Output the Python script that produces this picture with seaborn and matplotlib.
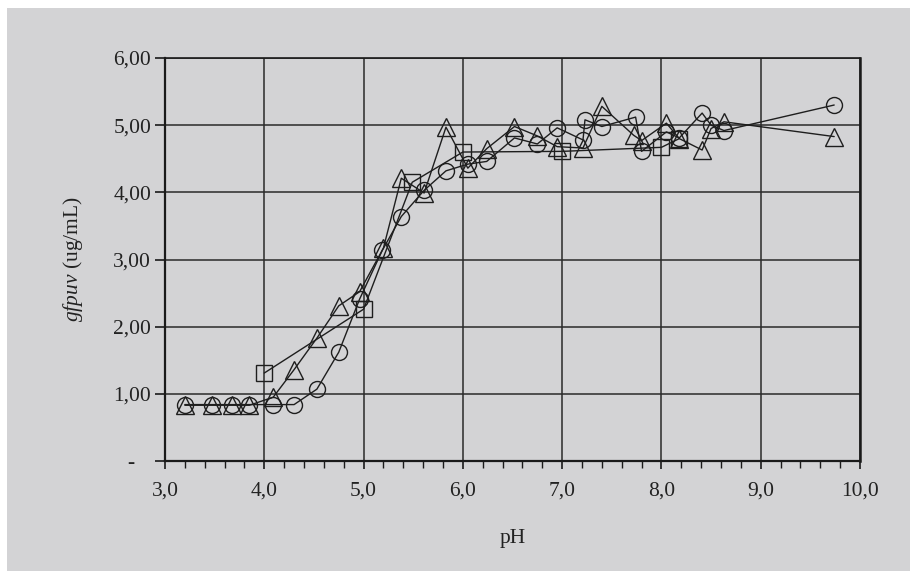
import numpy as np
import pandas as pd
import matplotlib
matplotlib.use("Agg")
import matplotlib.pyplot as plt
import seaborn as sns
from matplotlib.patches import Rectangle
from matplotlib.ticker import FixedLocator, MultipleLocator, FuncFormatter

# circle series
ph_circle = [3.20, 3.47, 3.67, 3.85, 4.09, 4.30, 4.53, 4.75, 4.96, 5.19, 5.38, 5.61,
             5.83, 6.05, 6.24, 6.52, 6.75, 6.95, 7.21, 7.23, 7.40, 7.74, 7.80, 8.05,
             8.18, 8.41, 8.50, 8.63, 9.74]
gfp_circle = [0.84, 0.84, 0.84, 0.84, 0.84, 0.84, 1.07, 1.62, 2.41, 3.14, 3.64, 4.03,
              4.32, 4.42, 4.46, 4.81, 4.72, 4.96, 4.78, 5.08, 4.98, 5.12, 4.61, 4.90,
              4.81, 5.18, 5.00, 4.92, 5.30]

# triangle series
ph_tri = [3.20, 3.47, 3.67, 3.85, 4.09, 4.30, 4.53, 4.75, 4.96, 5.20, 5.38, 5.61,
          5.83, 6.05, 6.24, 6.52, 6.75, 6.95, 7.21, 7.40, 7.72, 7.80, 8.05, 8.18,
          8.41, 8.50, 8.63, 9.74]
gfp_tri = [0.83, 0.83, 0.83, 0.83, 0.95, 1.36, 1.83, 2.31, 2.52, 3.17, 4.21, 3.99,
           4.97, 4.36, 4.65, 4.98, 4.84, 4.68, 4.66, 5.28, 4.85, 4.77, 5.03, 4.80,
           4.63, 4.95, 5.05, 4.83]

# square series
ph_sq = [4.00, 5.00, 5.49, 6.00, 7.00, 8.00, 8.18]
gfp_sq = [1.31, 2.26, 4.15, 4.60, 4.61, 4.67, 4.80]

x_ticks = [3, 4, 5, 6, 7, 8, 9, 10]
y_ticks = [0, 1, 2, 3, 4, 5, 6]

BG = "#d3d3d5"
INK = "#1e1e1e"

sns.set_style("ticks")
plt.rcParams["font.family"] = ["Liberation Serif", "DejaVu Serif"]
plt.rcParams["mathtext.fontset"] = "custom"
plt.rcParams["mathtext.rm"] = "Liberation Serif"
plt.rcParams["mathtext.it"] = "Liberation Serif:italic"

fig = plt.figure(figsize=(9.17, 5.79), dpi=100)
fig.patch.set_facecolor("white")
# grey panel inside a thin white margin
fig.patches.append(Rectangle((7 / 917, 8 / 579), 903 / 917, 563 / 579,
                             transform=fig.transFigure, facecolor=BG,
                             edgecolor="none", zorder=-10))

ax = fig.add_axes([165 / 917, 1 - 461 / 579, 695 / 917, 403 / 579])
ax.set_facecolor(BG)

series = [
    (ph_circle, gfp_circle, "o", 11.5),
    (ph_tri, gfp_tri, "^", 12.5),
    (ph_sq, gfp_sq, "s", 11),
]
for xs, ys, mk, ms in series:
    df = pd.DataFrame({"pH": xs, "gfp": ys})
    sns.lineplot(data=df, x="pH", y="gfp", ax=ax, sort=False, estimator=None,
                 color=INK, linewidth=1.0, marker=mk, markersize=ms,
                 markerfacecolor="none", markeredgecolor=INK, markeredgewidth=1.0,
                 zorder=3)

ax.set_xlim(3, 10)
ax.set_ylim(0, 6)
ax.xaxis.set_major_locator(FixedLocator(x_ticks))
ax.xaxis.set_minor_locator(MultipleLocator(0.2))
ax.yaxis.set_major_locator(FixedLocator(y_ticks))
ax.xaxis.set_major_formatter(FuncFormatter(lambda v, p: f"{v:.1f}".replace(".", ",")))
ax.yaxis.set_major_formatter(FuncFormatter(
    lambda v, p: "-   " if abs(v) < 1e-9 else f"{v:.2f}".replace(".", ",")))

ax.grid(True, which="major", color="#2a2a2a", linewidth=1.1)
ax.set_axisbelow(True)
for side in ["left", "bottom", "right", "top"]:
    ax.spines[side].set_visible(True)
    ax.spines[side].set_color("#1a1a1a")
ax.spines["left"].set_linewidth(1.6)
ax.spines["bottom"].set_linewidth(1.6)
ax.spines["right"].set_linewidth(1.8)
ax.spines["top"].set_linewidth(1.2)

ax.tick_params(axis="x", which="major", direction="out", length=6, width=1.2,
               color="#1a1a1a", pad=9, labelsize=15.5, labelcolor="#222222")
ax.tick_params(axis="x", which="minor", direction="out", length=5, width=1.0,
               color="#1a1a1a")
ax.tick_params(axis="y", which="major", direction="out", length=7, width=1.2,
               color="#1a1a1a", pad=3, labelsize=15.5, labelcolor="#222222")

ax.set_xlabel("pH", fontsize=15.5, color="#222222", labelpad=20)
ax.set_ylabel(r"$\it{gfpuv}$ (ug/mL)", fontsize=15.5, color="#222222", labelpad=20)

fig.savefig("out.png", dpi=100, facecolor=fig.get_facecolor())
